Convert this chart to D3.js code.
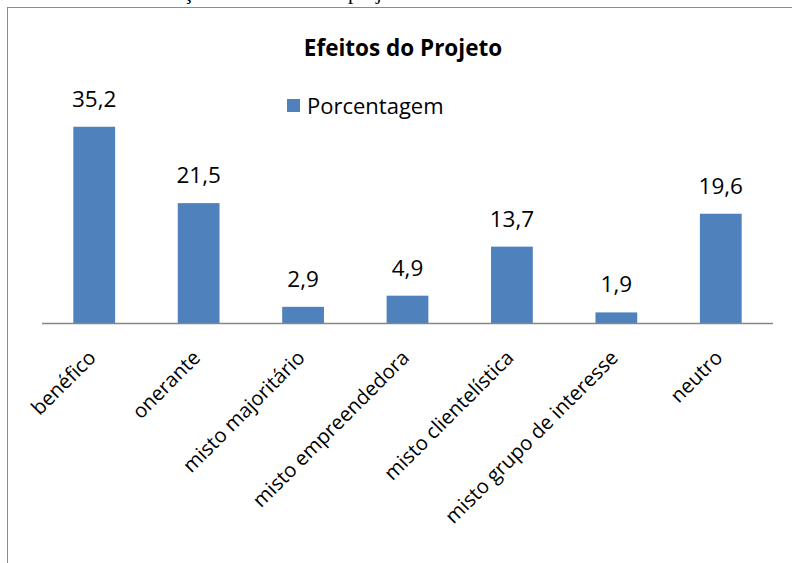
<!DOCTYPE html>
<html><head><meta charset="utf-8">
<script src="https://cdn.jsdelivr.net/npm/d3@7/dist/d3.min.js"></script>
<style>
html,body{margin:0;padding:0;background:#fff;}
svg{display:block;}
</style></head>
<body>
<svg id="c" width="792" height="563"></svg>
<script>
const categories = ["benéfico","onerante","misto majoritário","misto empreendedora","misto clientelística","misto grupo de interesse","neutro"];
const values = [35.2, 21.5, 2.9, 4.9, 13.7, 1.9, 19.6];
const valueLabels = ["35,2","21,5","2,9","4,9","13,7","1,9","19,6"];
const title = "Efeitos do Projeto";
const seriesName = "Porcentagem";
const caption = "Gráfico 4 – Distribuição dos efeitos dos projetos de lei";

const svg = d3.select("#c");
const font = "'Open Sans', sans-serif";

// caption cut off at top
svg.append("text").attr("x", 8).attr("y", -1.5)
  .attr("font-family", "'Liberation Serif', serif").attr("font-size", 21)
  .attr("fill", "#000").text(caption);

// chart frame
svg.append("rect").attr("x", 7.5).attr("y", 7.5).attr("width", 800).attr("height", 600)
  .attr("fill", "none").attr("stroke", "#8c8c8c").attr("stroke-width", 1);

const x = d3.scaleBand().domain(categories).range([42, 773]).paddingInner(0.6).paddingOuter(0.3);
const y = d3.scaleLinear().domain([0, 40]).range([323, 100]);

svg.append("text").attr("x", 403).attr("y", 56).attr("text-anchor", "middle")
  .attr("font-family", font).attr("font-weight", "bold").attr("font-size", 22.5)
  .attr("fill", "#000").text(title);

// legend
svg.append("rect").attr("x", 287).attr("y", 99).attr("width", 13).attr("height", 13).attr("fill", "#4F81BD");
svg.append("text").attr("x", 307).attr("y", 114).attr("font-family", font).attr("font-size", 22)
  .attr("fill", "#000").text(seriesName);

// bars
svg.selectAll("rect.bar").data(values).join("rect").attr("class", "bar")
  .attr("x", (d, i) => x(categories[i])).attr("width", x.bandwidth())
  .attr("y", d => y(d)).attr("height", d => y(0) - y(d)).attr("fill", "#4F81BD");

// value labels
svg.selectAll("text.val").data(values).join("text").attr("class", "val")
  .attr("x", (d, i) => x(categories[i]) + x.bandwidth() / 2).attr("y", d => y(d) - 20)
  .attr("text-anchor", "middle").attr("font-family", font).attr("font-size", 22.5)
  .attr("fill", "#000").text((d, i) => valueLabels[i]);

// axis
const axis = d3.axisBottom(x).tickSize(0).tickFormat("");
const g = svg.append("g").attr("transform", `translate(0,${y(0)})`).call(axis);
g.select(".domain").attr("stroke", "#868686").attr("stroke-width", 1.5).attr("d", "M42,0.5H773");

svg.selectAll("text.cat").data(categories).join("text").attr("class", "cat")
  .attr("transform", d => `translate(${x(d) + x.bandwidth() / 2 + 3},${359}) rotate(-45)`)
  .attr("text-anchor", "end").attr("font-family", font).attr("font-size", 20.2)
  .attr("fill", "#000").text(d => d);
</script>
</body></html>
